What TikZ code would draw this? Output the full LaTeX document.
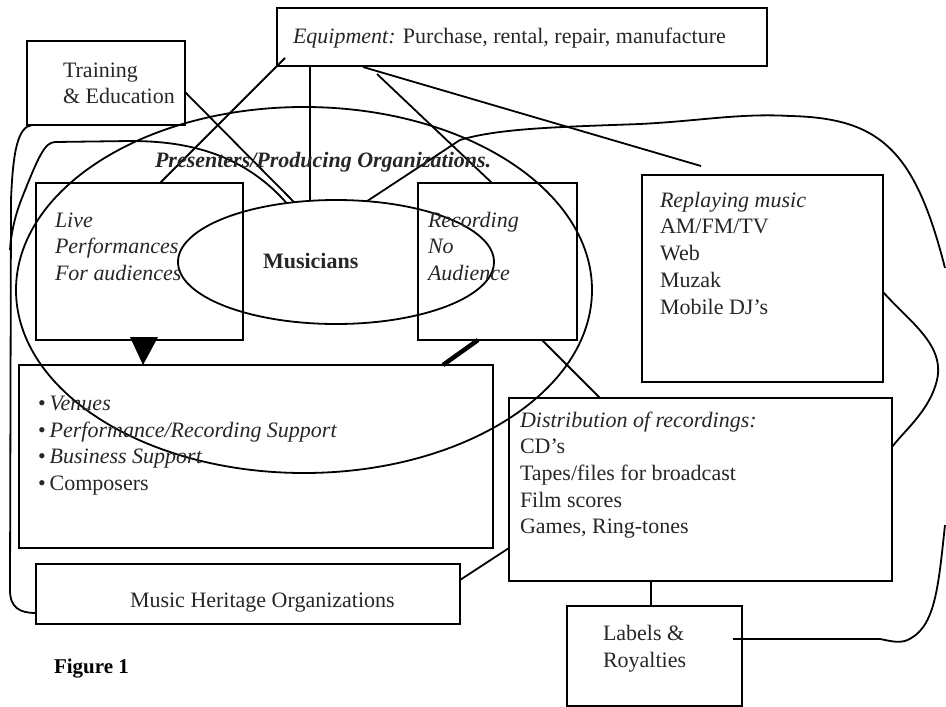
\documentclass[tikz,border=0pt]{standalone}
\usepackage{fontspec}
\setmainfont{Liberation Serif}
\usetikzlibrary{shapes.geometric,calc}
\begin{document}
\begin{tikzpicture}[x=1pt,y=-1pt,
  box/.style={draw, line width=1.8pt, inner sep=0pt, outer sep=0pt},
  oval/.style={draw, ellipse, line width=1.8pt, inner sep=0pt, outer sep=0pt},
  conn/.style={line width=1.8pt},
  txt/.style={anchor=base west, inner sep=0pt, outer sep=0pt, text=black!85, font=\fontsize{22}{26}\selectfont}]
\useasboundingbox (0,0) rectangle (946,707);

% boxes
\node[box, minimum width=490pt, minimum height=58pt]  (equip)    at (522,37) {};
\node[box, minimum width=158pt, minimum height=84pt]  (train)    at (106,83) {};
\node[box, minimum width=207pt, minimum height=157pt] (live)     at (139.5,261.5) {};
\node[box, minimum width=159pt, minimum height=157pt] (rec)      at (497.5,261.5) {};
\node[box, minimum width=241pt, minimum height=207pt] (replay)   at (762.5,278.5) {};
\node[box, minimum width=474pt, minimum height=183pt] (venues)   at (256,456.5) {};
\node[box, minimum width=424pt, minimum height=60pt]  (heritage) at (248,594) {};
\node[box, minimum width=383pt, minimum height=183pt] (distrib)  at (700.5,489.5) {};
\node[box, minimum width=175pt, minimum height=100pt] (labels)   at (654.5,656) {};

% ovals
\node[oval, minimum width=576pt, minimum height=366pt] (pres) at (304,290) {};
\node[oval, minimum width=316pt, minimum height=124pt] (mus)  at (336,262) {};

% free ends
\coordinate (eqA) at (285,58);
\coordinate (eqB) at (377,74);
\coordinate (eqC) at (363,67);
\coordinate (repTop) at (701,166);
\coordinate (rEnd1) at (945,268);
\coordinate (rEnd2) at (945,525);
\coordinate (labIn) at (733,639);

% straight connectors
\draw[conn] (eqA) -- ($(live.north west)+(124,0)$);
\draw[conn] ($(equip.south west)+(33,0)$) -- (mus.113);
\draw[conn] (eqB) -- ($(rec.north west)+(74,0)$);
\draw[conn] (eqC) -- (repTop);
\draw[conn] ($(train.east)+(0,9)$) -- (mus.125.6);
\draw[conn] ($(rec.south west)+(124,0)$) -- ($(distrib.north west)+(91,0)$);
\draw[conn] ($(heritage.east)+(0,-14)$) -- ($(distrib.west)+(0,58.5)$);
\draw[conn] ($(distrib.south)+(-49.5,0)$) -- ($(labels.north)+(-3.5,0)$);

% arrow head and thick mark
\fill ($(live.south)+(-9.5,-3)$) -- ++(28,0) -- ($(venues.north west)+(124,0)$) -- cycle;
\draw[line width=4.5pt] ($(venues.north west)+(424,0)$) -- ($(rec.south west)+(60,0)$);

% left curves
\draw[conn] ($(train.south west)+(25,0)$) -- (32,125)
  .. controls (18,127) and (13,150) .. (11,200) -- (10,590)
  .. controls (10,608) and (20,613) .. ($(heritage.west)+(0,19)$);
\draw[conn] (mus.130.9) .. controls (240,150) and (180,141) .. (130,141) -- (55,142)
  .. controls (45,143) and (40,152) .. (20,203)
  .. controls (14,220) and (11,235) .. (10,250);

% right curves
\draw[conn] (mus.63.1) -- (460,140) .. controls (500,128) and (560,127) .. (640,124)
  .. controls (700,121) and (740,113) .. (790,116)
  .. controls (880,118) and (915,150) .. (rEnd1);
\draw[conn] ($(replay.east)+(0,13.5)$) .. controls (910,322) and (945,345) .. (937,380)
  .. controls (930,410) and (905,430) .. ($(distrib.east)+(0,-42.5)$);
\draw[conn] (labIn) -- (880,639) .. controls (890,641) and (898,643) .. (905,641)
  .. controls (935,630) and (938,590) .. (rEnd2);

% texts
\node[txt] (tEq) at (293,43) {\textit{Equipment:} Purchase, rental, repair, manufacture};
\node[txt] (tTr1) at (63,77) {Training};
\node[txt] (tTr2) at (63,103) {\& Education};
\node[txt, font=\fontsize{22}{26}\selectfont\bfseries\itshape] (tPres) at (155,167) {Presenters/Producing Organizations.};
\node[txt] (tLi1) at (55,227) {\textit{Live}};
\node[txt] (tLi2) at (55,253) {\textit{Performances}};
\node[txt] (tLi3) at (55,280) {\textit{For audiences}};
\node[txt, font=\fontsize{22}{26}\selectfont\bfseries] (tMus) at (263,268) {Musicians};
\node[txt] (tRe1) at (428,227) {\textit{Recording}};
\node[txt] (tRe2) at (428,253) {\textit{No}};
\node[txt] (tRe3) at (428,280) {\textit{Audience}};
\node[txt] (tRp1) at (660,207) {\textit{Replaying music}};
\node[txt] (tRp2) at (660,233) {AM/FM/TV};
\node[txt] (tRp3) at (660,260) {Web};
\node[txt] (tRp4) at (660,287) {Muzak};
\node[txt] (tRp5) at (660,314) {Mobile DJ’s};
\node[txt] (tV1) at (38,410) {•\hspace{4pt}\textit{Venues}};
\node[txt] (tV2) at (38,437) {•\hspace{4pt}\textit{Performance/Recording Support}};
\node[txt] (tV3) at (38,463) {•\hspace{4pt}\textit{Business Support}};
\node[txt] (tV4) at (38,490) {•\hspace{4pt}Composers};
\node[txt] (tD1) at (520,427) {\textit{Distribution of recordings:}};
\node[txt] (tD2) at (520,453) {CD’s};
\node[txt] (tD3) at (520,480) {Tapes/files for broadcast};
\node[txt] (tD4) at (520,507) {Film scores};
\node[txt] (tD5) at (520,533) {Games, Ring-tones};
\node[txt] (tH) at (130,607) {Music Heritage Organizations};
\node[txt] (tL1) at (603,640) {Labels \&};
\node[txt] (tL2) at (603,667) {Royalties};
\node[txt, text=black, font=\fontsize{21}{25}\selectfont\bfseries] (tFig) at (54,673) {Figure 1};
\end{tikzpicture}
\end{document}
